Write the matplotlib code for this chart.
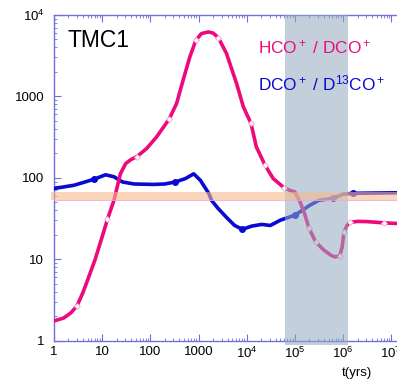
import numpy as np
import matplotlib
matplotlib.use("Agg")
from matplotlib import pyplot as plt
from matplotlib.ticker import FixedLocator, FuncFormatter, LogLocator, NullFormatter

plt.rcParams['font.family'] = ['Liberation Sans', 'DejaVu Sans']
plt.rcParams['mathtext.fontset'] = 'custom'
plt.rcParams['mathtext.rm'] = 'Liberation Sans'
plt.rcParams['mathtext.it'] = 'Liberation Sans'

# HCO+/DCO+ ratio (log10 of time in yrs, ratio)
hco_logt = [0, 0.2, 0.35, 0.477, 0.6, 0.7, 0.85, 1.0, 1.11, 1.245, 1.38, 1.49, 1.6,
            1.716, 1.923, 2.13, 2.39, 2.545, 2.68, 2.82, 2.946, 3.06, 3.2, 3.3, 3.41,
            3.58, 3.79, 3.93, 4.09, 4.2, 4.38, 4.55, 4.77, 4.9, 5.0, 5.1, 5.2, 5.29,
            5.43, 5.6, 5.75, 5.83, 5.93, 5.98, 6.02, 6.08, 6.14, 6.3, 6.5, 6.85, 7.12]
hco_ratio = [1.75, 1.9, 2.2, 2.67, 3.9, 5.6, 9.8, 18.9, 31, 53, 113, 150, 168,
             181, 229, 318, 525, 818, 1580, 3050, 4900, 5900, 6170, 6000, 5270,
             3370, 1440, 745, 465, 240, 143, 98, 76, 70, 67, 52, 36.6, 24.4,
             16.4, 13, 11.2, 10.7, 11, 14, 21.4, 26, 28.4, 29.2, 29, 28, 27.5]
hco_marks = [0.477, 1.11, 1.716, 2.39, 2.946, 3.41, 4.09, 4.38, 4.77, 5.29, 5.43,
             5.93, 6.02, 6.14, 6.85]

# DCO+/D13CO+ ratio
dco_logt = [0, 0.415, 0.83, 1.07, 1.245, 1.42, 1.66, 2.07, 2.3, 2.52, 2.73, 2.9, 3.04,
            3.215, 3.27, 3.4, 3.6, 3.75, 3.91, 4.1, 4.31, 4.49, 4.7, 5.0, 5.31, 5.5,
            5.79, 6.0, 6.2, 6.6, 7.12]
dco_ratio = [74, 81, 96, 109, 103, 89, 84, 83, 84, 89, 98, 112, 93,
             64, 53, 42.5, 31.8, 26, 23.3, 25.5, 26.8, 26, 30.2, 34.8, 46, 53,
             56, 63, 64.5, 65, 65.5]
dco_marks = [0.83, 2.52, 3.91, 5.0, 5.79, 6.2]

shade_t = (6.2e4, 1.24e6)
band_ratio = (54, 67)
line_ratio = 53

pink = '#ec0a7c'
blue = '#0a0ad0'
axis_col = '#6f6fe0'

hco_t = [10 ** v for v in hco_logt]
dco_t = [10 ** v for v in dco_logt]

fig = plt.figure(figsize=(3.97, 3.82), dpi=100)
ax = fig.add_axes([0.136, 0.108, 0.864, 0.853])

ax.plot(dco_t, dco_ratio, color=blue, lw=2.6, zorder=3, solid_capstyle='round',
        solid_joinstyle='round')
ax.plot([10 ** v for v in dco_marks], np.interp(dco_marks, dco_logt, dco_ratio),
        'o', color=blue, ms=4, zorder=3)
ax.plot(hco_t, hco_ratio, color=pink, lw=2.6, zorder=4, solid_capstyle='round',
        solid_joinstyle='round')
ax.plot([10 ** v for v in hco_marks], np.interp(hco_marks, hco_logt, hco_ratio),
        'D', mfc='white', mec='#f6a0c8', mew=0.6, ms=3, zorder=5)

ax.axvspan(shade_t[0], shade_t[1], ymin=-0.013, ymax=1, color='#93abc0', alpha=0.55,
           lw=0, zorder=6, clip_on=False)
ax.axhspan(band_ratio[0], band_ratio[1], xmin=-0.01, xmax=1, color='#f5b990', alpha=0.6,
           lw=0, zorder=7, clip_on=False)
ax.axhline(line_ratio, color='#f4a6cc', lw=0.6, zorder=7)

ax.set_xscale('log')
ax.set_yscale('log')
ax.set_xlim(1, 10 ** 7.12)
ax.set_ylim(1, 1e4)

def fmt(v, pos):
    if v <= 1000:
        return '%d' % round(v)
    return r'$10^{%d}$' % round(np.log10(v))

ax.xaxis.set_major_locator(FixedLocator([10 ** k for k in range(8)]))
ax.yaxis.set_major_locator(FixedLocator([10 ** k for k in range(5)]))
ax.xaxis.set_major_formatter(FuncFormatter(fmt))
ax.yaxis.set_major_formatter(FuncFormatter(fmt))
ax.xaxis.set_minor_locator(LogLocator(base=10, subs=np.arange(2, 10), numticks=20))
ax.yaxis.set_minor_locator(LogLocator(base=10, subs=np.arange(2, 10), numticks=20))
ax.xaxis.set_minor_formatter(NullFormatter())
ax.yaxis.set_minor_formatter(NullFormatter())

for side in ['left', 'bottom', 'top']:
    ax.spines[side].set_color(axis_col)
    ax.spines[side].set_linewidth(1.0)
ax.spines['right'].set_visible(False)
ax.tick_params(which='both', direction='in', top=True, right=False, color=axis_col,
               labelsize=9.5, labelcolor='black')
ax.tick_params(which='major', length=5, width=0.8)
ax.tick_params(which='minor', length=2.5, width=0.6)
ax.tick_params(axis='y', pad=7)
ax.tick_params(axis='x', pad=3.5)

fig.text(0.171, 0.895, 'TMC1', fontsize=16.5, va='center', ha='left')
fig.text(0.65, 0.861, r'HCO$^+$ / DCO$^+$', fontsize=12.4, color=pink, ha='left', va='baseline')
fig.text(0.65, 0.764, r'DCO$^+$ / D$^{13}$CO$^+$', fontsize=12.4, color=blue, ha='left', va='baseline')
fig.text(0.898, 0.024, 't(yrs)', fontsize=9.5, ha='center', va='center')

fig.savefig('out.png', dpi=100)
